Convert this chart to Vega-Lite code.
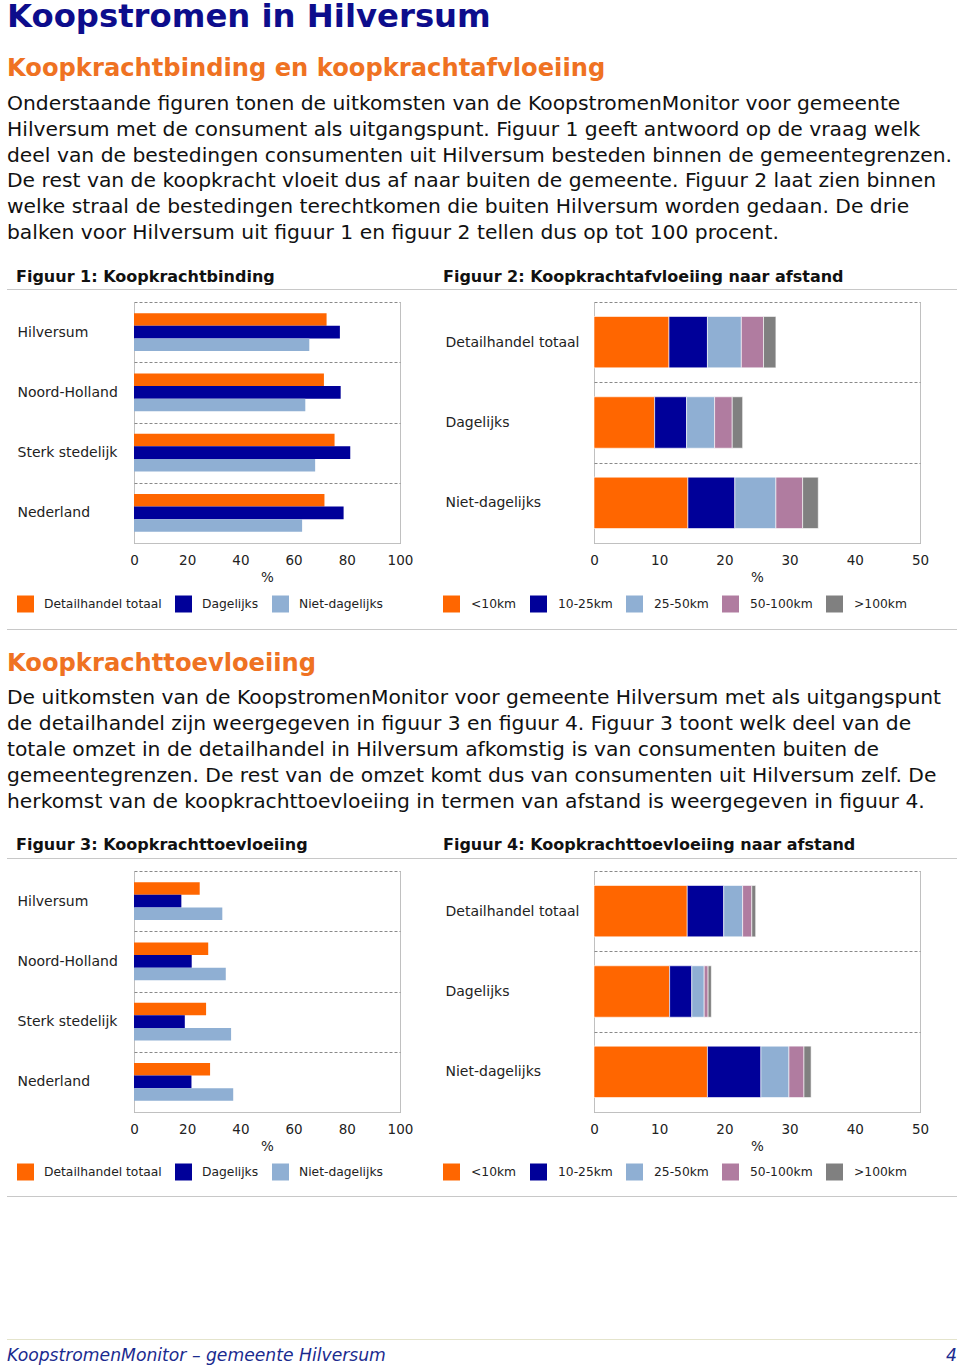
{
  "$schema": "https://vega.github.io/schema/vega-lite/v6.json",
  "background": "white",
  "padding": {"left": 7, "right": 3, "top": 0, "bottom": 0},
  "config": {
    "font": "DejaVu Sans",
    "view": {"stroke": null},
    "concat": {"spacing": 0}
  },
  "datasets": {
    "fig1": [
      {"Regio": "Hilversum", "Soort": "Detailhandel totaal", "Procent": 72.4},
      {"Regio": "Hilversum", "Soort": "Dagelijks", "Procent": 77.4},
      {"Regio": "Hilversum", "Soort": "Niet-dagelijks", "Procent": 65.9},
      {"Regio": "Noord-Holland", "Soort": "Detailhandel totaal", "Procent": 71.4},
      {"Regio": "Noord-Holland", "Soort": "Dagelijks", "Procent": 77.7},
      {"Regio": "Noord-Holland", "Soort": "Niet-dagelijks", "Procent": 64.4},
      {"Regio": "Sterk stedelijk", "Soort": "Detailhandel totaal", "Procent": 75.4},
      {"Regio": "Sterk stedelijk", "Soort": "Dagelijks", "Procent": 81.3},
      {"Regio": "Sterk stedelijk", "Soort": "Niet-dagelijks", "Procent": 68.1},
      {"Regio": "Nederland", "Soort": "Detailhandel totaal", "Procent": 71.6},
      {"Regio": "Nederland", "Soort": "Dagelijks", "Procent": 78.8},
      {"Regio": "Nederland", "Soort": "Niet-dagelijks", "Procent": 63.2}
    ],
    "fig2": [
      {"Soort": "Detailhandel totaal", "Afstand": "<10km", "Rang": 1, "Procent": 11.5},
      {"Soort": "Detailhandel totaal", "Afstand": "10-25km", "Rang": 2, "Procent": 5.9},
      {"Soort": "Detailhandel totaal", "Afstand": "25-50km", "Rang": 3, "Procent": 5.2},
      {"Soort": "Detailhandel totaal", "Afstand": "50-100km", "Rang": 4, "Procent": 3.4},
      {"Soort": "Detailhandel totaal", "Afstand": ">100km", "Rang": 5, "Procent": 1.9},
      {"Soort": "Dagelijks", "Afstand": "<10km", "Rang": 1, "Procent": 9.3},
      {"Soort": "Dagelijks", "Afstand": "10-25km", "Rang": 2, "Procent": 4.9},
      {"Soort": "Dagelijks", "Afstand": "25-50km", "Rang": 3, "Procent": 4.3},
      {"Soort": "Dagelijks", "Afstand": "50-100km", "Rang": 4, "Procent": 2.7},
      {"Soort": "Dagelijks", "Afstand": ">100km", "Rang": 5, "Procent": 1.6},
      {"Soort": "Niet-dagelijks", "Afstand": "<10km", "Rang": 1, "Procent": 14.4},
      {"Soort": "Niet-dagelijks", "Afstand": "10-25km", "Rang": 2, "Procent": 7.2},
      {"Soort": "Niet-dagelijks", "Afstand": "25-50km", "Rang": 3, "Procent": 6.3},
      {"Soort": "Niet-dagelijks", "Afstand": "50-100km", "Rang": 4, "Procent": 4.1},
      {"Soort": "Niet-dagelijks", "Afstand": ">100km", "Rang": 5, "Procent": 2.4}
    ],
    "fig3": [
      {"Regio": "Hilversum", "Soort": "Detailhandel totaal", "Procent": 24.7},
      {"Regio": "Hilversum", "Soort": "Dagelijks", "Procent": 17.8},
      {"Regio": "Hilversum", "Soort": "Niet-dagelijks", "Procent": 33.2},
      {"Regio": "Noord-Holland", "Soort": "Detailhandel totaal", "Procent": 27.9},
      {"Regio": "Noord-Holland", "Soort": "Dagelijks", "Procent": 21.7},
      {"Regio": "Noord-Holland", "Soort": "Niet-dagelijks", "Procent": 34.5},
      {"Regio": "Sterk stedelijk", "Soort": "Detailhandel totaal", "Procent": 27.1},
      {"Regio": "Sterk stedelijk", "Soort": "Dagelijks", "Procent": 19.1},
      {"Regio": "Sterk stedelijk", "Soort": "Niet-dagelijks", "Procent": 36.5},
      {"Regio": "Nederland", "Soort": "Detailhandel totaal", "Procent": 28.6},
      {"Regio": "Nederland", "Soort": "Dagelijks", "Procent": 21.6},
      {"Regio": "Nederland", "Soort": "Niet-dagelijks", "Procent": 37.3}
    ],
    "fig4": [
      {"Soort": "Detailhandel totaal", "Afstand": "<10km", "Rang": 1, "Procent": 14.3},
      {"Soort": "Detailhandel totaal", "Afstand": "10-25km", "Rang": 2, "Procent": 5.6},
      {"Soort": "Detailhandel totaal", "Afstand": "25-50km", "Rang": 3, "Procent": 2.9},
      {"Soort": "Detailhandel totaal", "Afstand": "50-100km", "Rang": 4, "Procent": 1.4},
      {"Soort": "Detailhandel totaal", "Afstand": ">100km", "Rang": 5, "Procent": 0.6},
      {"Soort": "Dagelijks", "Afstand": "<10km", "Rang": 1, "Procent": 11.6},
      {"Soort": "Dagelijks", "Afstand": "10-25km", "Rang": 2, "Procent": 3.4},
      {"Soort": "Dagelijks", "Afstand": "25-50km", "Rang": 3, "Procent": 1.9},
      {"Soort": "Dagelijks", "Afstand": "50-100km", "Rang": 4, "Procent": 0.6},
      {"Soort": "Dagelijks", "Afstand": ">100km", "Rang": 5, "Procent": 0.5},
      {"Soort": "Niet-dagelijks", "Afstand": "<10km", "Rang": 1, "Procent": 17.4},
      {"Soort": "Niet-dagelijks", "Afstand": "10-25km", "Rang": 2, "Procent": 8.2},
      {"Soort": "Niet-dagelijks", "Afstand": "25-50km", "Rang": 3, "Procent": 4.3},
      {"Soort": "Niet-dagelijks", "Afstand": "50-100km", "Rang": 4, "Procent": 2.3},
      {"Soort": "Niet-dagelijks", "Afstand": ">100km", "Rang": 5, "Procent": 1.1}
    ]
  },
  "bounds": "full",
  "spacing": 0,
  "resolve": {"scale": {"color": "independent", "yOffset": "independent"}, "legend": {"color": "independent"}},
  "vconcat": [
    {
      "width": 950, "height": 50,
      "data": {"values": [{"regel": 1, "tekst": "Koopstromen in Hilversum"}]},
      "mark": {"type": "text", "align": "left", "baseline": "middle", "fontSize": 32.3, "fontWeight": "bold", "color": "#0d0d8c"},
      "encoding": {
        "x": {"datum": 0, "type": "quantitative", "scale": {"domain": [0, 1]}, "axis": null},
        "y": {"field": "regel", "type": "ordinal", "scale": {"type": "point", "align": 0.34}, "axis": null},
        "text": {"field": "tekst"}
      }
    },
    {
      "width": 950, "height": 41,
      "data": {"values": [{"regel": 1, "tekst": "Koopkrachtbinding en koopkrachtafvloeiing"}]},
      "mark": {"type": "text", "align": "left", "baseline": "middle", "fontSize": 24.2, "fontWeight": "bold", "color": "#ef7222"},
      "encoding": {
        "x": {"datum": 0, "type": "quantitative", "scale": {"domain": [0, 1]}, "axis": null},
        "y": {"field": "regel", "type": "ordinal", "scale": {"type": "point", "align": 0.463}, "axis": null},
        "text": {"field": "tekst"}
      }
    },
    {
      "width": 950, "height": 155,
      "data": {"values": [
        {"regel": 1, "tekst": "Onderstaande figuren tonen de uitkomsten van de KoopstromenMonitor voor gemeente"},
        {"regel": 2, "tekst": "Hilversum met de consument als uitgangspunt. Figuur 1 geeft antwoord op de vraag welk"},
        {"regel": 3, "tekst": "deel van de bestedingen consumenten uit Hilversum besteden binnen de gemeentegrenzen."},
        {"regel": 4, "tekst": "De rest van de koopkracht vloeit dus af naar buiten de gemeente. Figuur 2 laat zien binnen"},
        {"regel": 5, "tekst": "welke straal de bestedingen terechtkomen die buiten Hilversum worden gedaan. De drie"},
        {"regel": 6, "tekst": "balken voor Hilversum uit figuur 1 en figuur 2 tellen dus op tot 100 procent."}
      ]},
      "mark": {"type": "text", "align": "left", "baseline": "middle", "fontSize": 20.3, "color": "#111111"},
      "encoding": {
        "x": {"datum": 0, "type": "quantitative", "scale": {"domain": [0, 1]}, "axis": null},
        "y": {"field": "regel", "type": "ordinal", "scale": {"type": "point", "align": 0.5}, "axis": null},
        "text": {"field": "tekst"}
      }
    },
    {
      "hconcat": [
        {"width": 9, "height": 42, "data": {"values": [{"t": ""}]}, "mark": {"type": "text", "fontSize": 1}, "encoding": {"text": {"field": "t"}}},
        {
          "width": 427, "height": 42,
          "data": {"values": [{"regel": 1, "tekst": "Figuur 1: Koopkrachtbinding"}]},
          "mark": {"type": "text", "align": "left", "baseline": "middle", "fontSize": 16, "fontWeight": "bold", "color": "#111111"},
          "encoding": {
            "x": {"datum": 0, "type": "quantitative", "scale": {"domain": [0, 1]}, "axis": null},
            "y": {"field": "regel", "type": "ordinal", "scale": {"type": "point", "align": 0.738}, "axis": null},
            "text": {"field": "tekst"}
          }
        },
        {
          "width": 514, "height": 42,
          "data": {"values": [{"regel": 1, "tekst": "Figuur 2: Koopkrachtafvloeiing naar afstand"}]},
          "mark": {"type": "text", "align": "left", "baseline": "middle", "fontSize": 16, "fontWeight": "bold", "color": "#111111"},
          "encoding": {
            "x": {"datum": 0, "type": "quantitative", "scale": {"domain": [0, 1]}, "axis": null},
            "y": {"field": "regel", "type": "ordinal", "scale": {"type": "point", "align": 0.738}, "axis": null},
            "text": {"field": "tekst"}
          }
        }
      ],
      "spacing": 0,
      "bounds": "flush"
    },
    {"width": 950, "height": 1, "view": {"fill": "#c8c8c8", "stroke": null}, "data": {"values": [{"t": ""}]}, "mark": {"type": "text", "fontSize": 1}, "encoding": {"text": {"field": "t"}}},
    {"width": 950, "height": 5, "data": {"values": [{"t": ""}]}, "mark": {"type": "text", "fontSize": 1}, "encoding": {"text": {"field": "t"}}},
    {
      "hconcat": [
        {"width": 127, "height": 241, "data": {"values": [{"t": ""}]}, "mark": {"type": "text", "fontSize": 1}, "encoding": {"text": {"field": "t"}}},
        {
          "width": 266, "height": 241,
          "data": {"name": "fig1"},
          "mark": {"type": "bar"},
          "encoding": {
            "y": {"field": "Regio", "type": "nominal", "sort": ["Hilversum", "Noord-Holland", "Sterk stedelijk", "Nederland"],
              "scale": {"paddingInner": 0, "paddingOuter": 0},
              "axis": {"title": null, "domain": false, "ticks": false, "tickSize": 0, "labelAlign": "left", "labelPadding": 117, "labelFontSize": 14, "labelColor": "#222222", "grid": true, "gridColor": "#8a8a8a", "gridDash": [3, 2], "tickBand": "extent"}},
            "yOffset": {"field": "Soort", "type": "nominal", "sort": ["Detailhandel totaal", "Dagelijks", "Niet-dagelijks"], "scale": {"paddingInner": 0, "paddingOuter": 0.88}},
            "x": {"field": "Procent", "type": "quantitative", "scale": {"domain": [0, 100]},
              "axis": {"values": [0, 20, 40, 60, 80, 100], "title": "%", "titlePadding": 4, "ticks": false, "tickSize": 0, "labelPadding": 10, "labelFlush": false, "domain": true, "domainColor": "#c0c0c0", "grid": true, "gridColor": "#c0c0c0", "gridOpacity": {"condition": {"test": "datum.value === 0 || datum.value === 100", "value": 1}, "value": 0}, "labelFontSize": 13.5, "titleFontSize": 13.5, "titleFontWeight": "normal", "labelColor": "#222222", "titleColor": "#222222"}},
            "color": {"field": "Soort", "type": "nominal",
              "scale": {"domain": ["Detailhandel totaal", "Dagelijks", "Niet-dagelijks"], "range": ["#ff6600", "#000099", "#8fafd3"]},
              "legend": {"orient": "none", "legendX": -117, "legendY": 293.5, "direction": "horizontal", "title": null, "symbolType": "square", "symbolSize": 289, "symbolStrokeWidth": 0, "symbolOpacity": 1, "labelFontSize": 12.3, "labelOffset": 10, "columnPadding": 13, "padding": 0, "labelColor": "#222222", "labelLimit": 300}}
          }
        },
        {"width": 194, "height": 241, "data": {"values": [{"t": ""}]}, "mark": {"type": "text", "fontSize": 1}, "encoding": {"text": {"field": "t"}}},
        {
          "width": 326, "height": 241,
          "data": {"name": "fig2"},
          "mark": {"type": "bar", "height": {"band": 0.64}, "stroke": "#ffffff", "strokeWidth": 0.6},
          "encoding": {
            "y": {"field": "Soort", "type": "nominal", "sort": ["Detailhandel totaal", "Dagelijks", "Niet-dagelijks"],
              "scale": {"paddingInner": 0, "paddingOuter": 0},
              "axis": {"title": null, "domain": false, "ticks": false, "tickSize": 0, "labelAlign": "left", "labelPadding": 149, "labelFontSize": 14, "labelColor": "#222222", "grid": true, "gridColor": "#8a8a8a", "gridDash": [3, 2], "tickBand": "extent"}},
            "x": {"field": "Procent", "type": "quantitative", "stack": "zero", "scale": {"domain": [0, 50]},
              "axis": {"values": [0, 10, 20, 30, 40, 50], "title": "%", "titlePadding": 4, "ticks": false, "tickSize": 0, "labelPadding": 10, "labelFlush": false, "domain": true, "domainColor": "#c0c0c0", "grid": true, "gridColor": "#c0c0c0", "gridOpacity": {"condition": {"test": "datum.value === 0 || datum.value === 50", "value": 1}, "value": 0}, "labelFontSize": 13.5, "titleFontSize": 13.5, "titleFontWeight": "normal", "labelColor": "#222222", "titleColor": "#222222"}},
            "order": {"field": "Rang", "type": "quantitative"},
            "color": {"field": "Afstand", "type": "nominal",
              "scale": {"domain": ["<10km", "10-25km", "25-50km", "50-100km", ">100km"], "range": ["#ff6600", "#000099", "#8fafd3", "#b07ca0", "#808080"]},
              "legend": {"orient": "none", "legendX": -151, "legendY": 293.5, "direction": "horizontal", "title": null, "symbolType": "square", "symbolSize": 289, "symbolStrokeWidth": 0, "symbolOpacity": 1, "labelFontSize": 12.3, "labelOffset": 11, "columnPadding": 13, "padding": 0, "labelColor": "#222222", "labelLimit": 300}}
          }
        }
      ],
      "spacing": 0,
      "bounds": "flush",
      "resolve": {"scale": {"color": "independent"}, "legend": {"color": "independent"}}
    },
    {"width": 950, "height": 14.5, "data": {"values": [{"t": ""}]}, "mark": {"type": "text", "fontSize": 1}, "encoding": {"text": {"field": "t"}}},
    {"width": 950, "height": 1, "view": {"fill": "#c8c8c8", "stroke": null}, "data": {"values": [{"t": ""}]}, "mark": {"type": "text", "fontSize": 1}, "encoding": {"text": {"field": "t"}}},
    {
      "width": 950, "height": 55,
      "data": {"values": [{"regel": 1, "tekst": "Koopkrachttoevloeiing"}]},
      "mark": {"type": "text", "align": "left", "baseline": "middle", "fontSize": 24.2, "fontWeight": "bold", "color": "#ef7222"},
      "encoding": {
        "x": {"datum": 0, "type": "quantitative", "scale": {"domain": [0, 1]}, "axis": null},
        "y": {"field": "regel", "type": "ordinal", "scale": {"type": "point", "align": 0.618}, "axis": null},
        "text": {"field": "tekst"}
      }
    },
    {
      "width": 950, "height": 130,
      "data": {"values": [
        {"regel": 1, "tekst": "De uitkomsten van de KoopstromenMonitor voor gemeente Hilversum met als uitgangspunt"},
        {"regel": 2, "tekst": "de detailhandel zijn weergegeven in figuur 3 en figuur 4. Figuur 3 toont welk deel van de"},
        {"regel": 3, "tekst": "totale omzet in de detailhandel in Hilversum afkomstig is van consumenten buiten de"},
        {"regel": 4, "tekst": "gemeentegrenzen. De rest van de omzet komt dus van consumenten uit Hilversum zelf. De"},
        {"regel": 5, "tekst": "herkomst van de koopkrachttoevloeiing in termen van afstand is weergegeven in figuur 4."}
      ]},
      "mark": {"type": "text", "align": "left", "baseline": "middle", "fontSize": 20.3, "color": "#111111"},
      "encoding": {
        "x": {"datum": 0, "type": "quantitative", "scale": {"domain": [0, 1]}, "axis": null},
        "y": {"field": "regel", "type": "ordinal", "scale": {"type": "point", "align": 0.5}, "axis": null},
        "text": {"field": "tekst"}
      }
    },
    {
      "hconcat": [
        {"width": 9, "height": 42, "data": {"values": [{"t": ""}]}, "mark": {"type": "text", "fontSize": 1}, "encoding": {"text": {"field": "t"}}},
        {
          "width": 427, "height": 42,
          "data": {"values": [{"regel": 1, "tekst": "Figuur 3: Koopkrachttoevloeiing"}]},
          "mark": {"type": "text", "align": "left", "baseline": "middle", "fontSize": 16, "fontWeight": "bold", "color": "#111111"},
          "encoding": {
            "x": {"datum": 0, "type": "quantitative", "scale": {"domain": [0, 1]}, "axis": null},
            "y": {"field": "regel", "type": "ordinal", "scale": {"type": "point", "align": 0.714}, "axis": null},
            "text": {"field": "tekst"}
          }
        },
        {
          "width": 514, "height": 42,
          "data": {"values": [{"regel": 1, "tekst": "Figuur 4: Koopkrachttoevloeiing naar afstand"}]},
          "mark": {"type": "text", "align": "left", "baseline": "middle", "fontSize": 16, "fontWeight": "bold", "color": "#111111"},
          "encoding": {
            "x": {"datum": 0, "type": "quantitative", "scale": {"domain": [0, 1]}, "axis": null},
            "y": {"field": "regel", "type": "ordinal", "scale": {"type": "point", "align": 0.714}, "axis": null},
            "text": {"field": "tekst"}
          }
        }
      ],
      "spacing": 0,
      "bounds": "flush"
    },
    {"width": 950, "height": 1, "view": {"fill": "#c8c8c8", "stroke": null}, "data": {"values": [{"t": ""}]}, "mark": {"type": "text", "fontSize": 1}, "encoding": {"text": {"field": "t"}}},
    {"width": 950, "height": 5, "data": {"values": [{"t": ""}]}, "mark": {"type": "text", "fontSize": 1}, "encoding": {"text": {"field": "t"}}},
    {
      "hconcat": [
        {"width": 127, "height": 241, "data": {"values": [{"t": ""}]}, "mark": {"type": "text", "fontSize": 1}, "encoding": {"text": {"field": "t"}}},
        {
          "width": 266, "height": 241,
          "data": {"name": "fig3"},
          "mark": {"type": "bar"},
          "encoding": {
            "y": {"field": "Regio", "type": "nominal", "sort": ["Hilversum", "Noord-Holland", "Sterk stedelijk", "Nederland"],
              "scale": {"paddingInner": 0, "paddingOuter": 0},
              "axis": {"title": null, "domain": false, "ticks": false, "tickSize": 0, "labelAlign": "left", "labelPadding": 117, "labelFontSize": 14, "labelColor": "#222222", "grid": true, "gridColor": "#8a8a8a", "gridDash": [3, 2], "tickBand": "extent"}},
            "yOffset": {"field": "Soort", "type": "nominal", "sort": ["Detailhandel totaal", "Dagelijks", "Niet-dagelijks"], "scale": {"paddingInner": 0, "paddingOuter": 0.88}},
            "x": {"field": "Procent", "type": "quantitative", "scale": {"domain": [0, 100]},
              "axis": {"values": [0, 20, 40, 60, 80, 100], "title": "%", "titlePadding": 4, "ticks": false, "tickSize": 0, "labelPadding": 10, "labelFlush": false, "domain": true, "domainColor": "#c0c0c0", "grid": true, "gridColor": "#c0c0c0", "gridOpacity": {"condition": {"test": "datum.value === 0 || datum.value === 100", "value": 1}, "value": 0}, "labelFontSize": 13.5, "titleFontSize": 13.5, "titleFontWeight": "normal", "labelColor": "#222222", "titleColor": "#222222"}},
            "color": {"field": "Soort", "type": "nominal",
              "scale": {"domain": ["Detailhandel totaal", "Dagelijks", "Niet-dagelijks"], "range": ["#ff6600", "#000099", "#8fafd3"]},
              "legend": {"orient": "none", "legendX": -117, "legendY": 292.5, "direction": "horizontal", "title": null, "symbolType": "square", "symbolSize": 289, "symbolStrokeWidth": 0, "symbolOpacity": 1, "labelFontSize": 12.3, "labelOffset": 10, "columnPadding": 13, "padding": 0, "labelColor": "#222222", "labelLimit": 300}}
          }
        },
        {"width": 194, "height": 241, "data": {"values": [{"t": ""}]}, "mark": {"type": "text", "fontSize": 1}, "encoding": {"text": {"field": "t"}}},
        {
          "width": 326, "height": 241,
          "data": {"name": "fig4"},
          "mark": {"type": "bar", "height": {"band": 0.64}, "stroke": "#ffffff", "strokeWidth": 0.6},
          "encoding": {
            "y": {"field": "Soort", "type": "nominal", "sort": ["Detailhandel totaal", "Dagelijks", "Niet-dagelijks"],
              "scale": {"paddingInner": 0, "paddingOuter": 0},
              "axis": {"title": null, "domain": false, "ticks": false, "tickSize": 0, "labelAlign": "left", "labelPadding": 149, "labelFontSize": 14, "labelColor": "#222222", "grid": true, "gridColor": "#8a8a8a", "gridDash": [3, 2], "tickBand": "extent"}},
            "x": {"field": "Procent", "type": "quantitative", "stack": "zero", "scale": {"domain": [0, 50]},
              "axis": {"values": [0, 10, 20, 30, 40, 50], "title": "%", "titlePadding": 4, "ticks": false, "tickSize": 0, "labelPadding": 10, "labelFlush": false, "domain": true, "domainColor": "#c0c0c0", "grid": true, "gridColor": "#c0c0c0", "gridOpacity": {"condition": {"test": "datum.value === 0 || datum.value === 50", "value": 1}, "value": 0}, "labelFontSize": 13.5, "titleFontSize": 13.5, "titleFontWeight": "normal", "labelColor": "#222222", "titleColor": "#222222"}},
            "order": {"field": "Rang", "type": "quantitative"},
            "color": {"field": "Afstand", "type": "nominal",
              "scale": {"domain": ["<10km", "10-25km", "25-50km", "50-100km", ">100km"], "range": ["#ff6600", "#000099", "#8fafd3", "#b07ca0", "#808080"]},
              "legend": {"orient": "none", "legendX": -151, "legendY": 292.5, "direction": "horizontal", "title": null, "symbolType": "square", "symbolSize": 289, "symbolStrokeWidth": 0, "symbolOpacity": 1, "labelFontSize": 12.3, "labelOffset": 11, "columnPadding": 13, "padding": 0, "labelColor": "#222222", "labelLimit": 300}}
          }
        }
      ],
      "spacing": 0,
      "bounds": "flush",
      "resolve": {"scale": {"color": "independent"}, "legend": {"color": "independent"}}
    },
    {"width": 950, "height": 13.5, "data": {"values": [{"t": ""}]}, "mark": {"type": "text", "fontSize": 1}, "encoding": {"text": {"field": "t"}}},
    {"width": 950, "height": 1, "view": {"fill": "#c8c8c8", "stroke": null}, "data": {"values": [{"t": ""}]}, "mark": {"type": "text", "fontSize": 1}, "encoding": {"text": {"field": "t"}}},
    {"width": 950, "height": 141, "data": {"values": [{"t": ""}]}, "mark": {"type": "text", "fontSize": 1}, "encoding": {"text": {"field": "t"}}},
    {"width": 950, "height": 1, "view": {"fill": "#e4e4cc", "stroke": null}, "data": {"values": [{"t": ""}]}, "mark": {"type": "text", "fontSize": 1}, "encoding": {"text": {"field": "t"}}},
    {
      "width": 950, "height": 27,
      "layer": [
        {
          "data": {"values": [{"regel": 1, "tekst": "KoopstromenMonitor – gemeente Hilversum"}]},
          "mark": {"type": "text", "align": "left", "baseline": "middle", "fontSize": 17.2, "fontStyle": "italic", "color": "#1b2b8f"},
          "encoding": {
            "x": {"datum": 0, "type": "quantitative", "scale": {"domain": [0, 1]}, "axis": null},
            "y": {"field": "regel", "type": "ordinal", "scale": {"type": "point", "align": 0.6}, "axis": null},
            "text": {"field": "tekst"}
          }
        },
        {
          "data": {"values": [{"regel": 1, "tekst": "4"}]},
          "mark": {"type": "text", "align": "right", "baseline": "middle", "fontSize": 17.2, "fontStyle": "italic", "color": "#1b2b8f"},
          "encoding": {
            "x": {"datum": 1, "type": "quantitative", "scale": {"domain": [0, 1]}, "axis": null},
            "y": {"field": "regel", "type": "ordinal", "scale": {"type": "point", "align": 0.6}, "axis": null},
            "text": {"field": "tekst"}
          }
        }
      ]
    }
  ]
}
